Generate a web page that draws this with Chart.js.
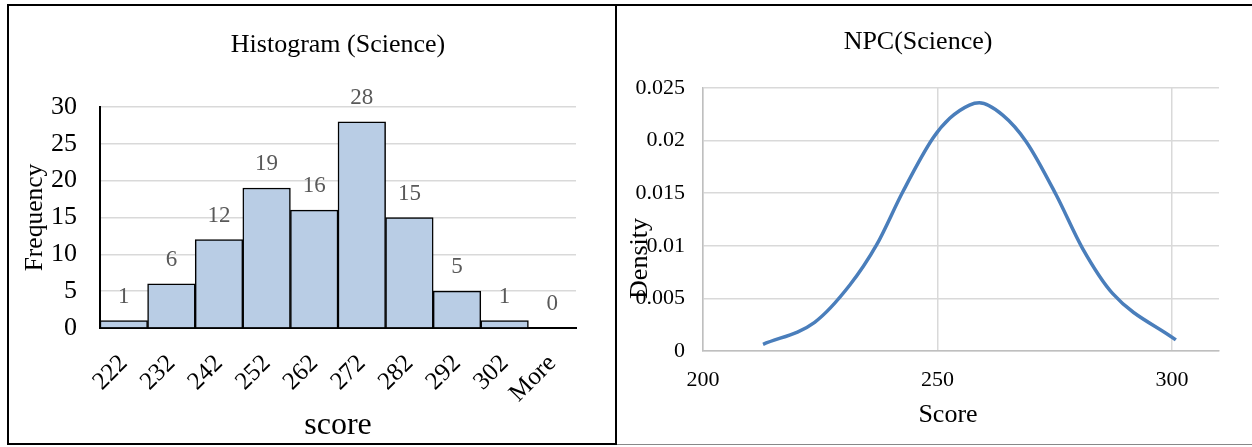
<!DOCTYPE html>
<html>
<head>
<meta charset="utf-8">
<script src="https://cdn.jsdelivr.net/npm/chart.js@4/dist/chart.umd.min.js"></script>
<style>
  html, body { margin: 0; padding: 0; background: #fff; }
  body { width: 1252px; height: 447px; position: relative; overflow: hidden; }
  #leftBox { position: absolute; left: 7px; top: 4px; width: 606px; height: 437px; border: 2px solid #000; }
  #rightTop { position: absolute; left: 617px; top: 4px; width: 635px; height: 2px; background: #000; }
  #rightBottom { position: absolute; left: 617px; top: 444px; width: 635px; height: 1px; background: #888; }
  .wrap { position: absolute; }
  #histWrap { left: 9px; top: 6px; width: 606px; height: 437px; }
  #npcWrap { left: 617px; top: 6px; width: 635px; height: 438px; }
</style>
</head>
<body>
<div id="leftBox"></div>
<div id="rightTop"></div>
<div id="rightBottom"></div>
<div class="wrap" id="histWrap"><canvas id="histChart"></canvas></div>
<div class="wrap" id="npcWrap"><canvas id="npcChart"></canvas></div>
<script>
// Histogram data
const bins = ['222', '232', '242', '252', '262', '272', '282', '292', '302', 'More'];
const freq = [1, 6, 12, 19, 16, 28, 15, 5, 1, 0];

// Normal probability curve
const npcScore = [212.8, 223.8, 231.3, 237.0, 242.6, 249.0, 252.6, 256.8, 258.9, 263.9, 268.9, 275.3, 280.9, 287.3, 300.8];
const npcDensity = [0.00064, 0.00273, 0.00627, 0.01008, 0.01514, 0.02022, 0.02212, 0.02338, 0.0236, 0.02243, 0.0199, 0.01483, 0.00976, 0.00548, 0.00105];
const npcScoreTicks = [200, 250, 300];

const serif = '"Liberation Serif", "Times New Roman", serif';
Chart.defaults.font.family = serif;
Chart.defaults.color = '#000';
Chart.defaults.animation = false;

// labels above the bars
const barLabels = {
    id: 'barLabels',
    afterDatasetsDraw(chart) {
        const ctx = chart.ctx;
        const meta = chart.getDatasetMeta(0);
        ctx.save();
        ctx.font = '23px ' + serif;
        ctx.fillStyle = '#595959';
        ctx.textAlign = 'center';
        ctx.textBaseline = 'middle';
        meta.data.forEach((bar, i) => {
            ctx.fillText(String(freq[i]), bar.x, bar.y - 24);
        });
        ctx.restore();
    }
};

new Chart(document.getElementById('histChart'), {
    type: 'bar',
    data: {
        labels: bins,
        datasets: [{
            data: freq,
            backgroundColor: '#b9cde5',
            borderColor: '#000',
            borderWidth: 1.5,
            categoryPercentage: 1,
            barPercentage: 1
        }]
    },
    options: {
        responsive: true,
        maintainAspectRatio: false,
        layout: { padding: { left: 0, right: 39, top: 0, bottom: 0 } },
        plugins: {
            legend: { display: false },
            tooltip: { enabled: false },
            title: {
                display: true,
                text: 'Histogram (Science)',
                fullSize: false,
                font: { size: 26, weight: 'normal' },
                color: '#000',
                padding: { top: 23.4, bottom: 46.4 }
            }
        },
        scales: {
            x: {
                grid: { display: false },
                border: { display: true, color: '#000', width: 2 },
                ticks: { minRotation: 45, maxRotation: 45, padding: 13, font: { size: 25 }, color: '#000' },
                title: { display: true, text: 'score', font: { size: 32 }, color: '#000', padding: { top: 0, bottom: -2 } },
                afterFit: scale => { scale.height = 115; }
            },
            y: {
                min: 0,
                max: 30,
                ticks: { stepSize: 5, padding: 23, font: { size: 26 }, color: '#000' },
                grid: { color: '#d9d9d9', lineWidth: 1.5, drawTicks: false },
                border: { display: true, color: '#000', width: 2 },
                title: { display: true, text: 'Frequency', font: { size: 25.5 }, color: '#000', padding: { top: 10.7, bottom: 0 } },
                afterFit: scale => { scale.width = 91; }
            }
        }
    },
    plugins: [barLabels]
});

new Chart(document.getElementById('npcChart'), {
    type: 'line',
    data: {
        datasets: [{
            data: npcScore.map((s, i) => ({ x: s, y: npcDensity[i] })),
            borderColor: '#4a7ebb',
            borderWidth: 3.5,
            pointRadius: 0,
            cubicInterpolationMode: 'monotone',
            fill: false
        }]
    },
    options: {
        responsive: true,
        maintainAspectRatio: false,
        layout: { padding: { left: 0, right: 33, top: 0, bottom: 0 } },
        plugins: {
            legend: { display: false },
            tooltip: { enabled: false },
            title: {
                display: true,
                text: 'NPC(Science)',
                font: { size: 26, weight: 'normal' },
                color: '#000',
                padding: { top: 20.1, bottom: 30.7 }
            }
        },
        scales: {
            x: {
                type: 'linear',
                min: 200,
                max: 310,
                ticks: { padding: 16, font: { size: 22 }, color: '#000' },
                afterBuildTicks: scale => { scale.ticks = npcScoreTicks.map(v => ({ value: v })); },
                grid: { color: '#d9d9d9', lineWidth: 1.5, drawTicks: false },
                border: { display: true, color: '#bfbfbf', width: 1.5 },
                title: { display: true, text: 'Score    ', font: { size: 26 }, color: '#000', padding: { top: 0, bottom: 13.4 } },
                afterFit: scale => { scale.height = 93; }
            },
            y: {
                min: 0,
                max: 0.025,
                ticks: {
                    stepSize: 0.005,
                    padding: 18,
                    font: { size: 22 },
                    color: '#000',
                    callback: v => String(+v.toFixed(3))
                },
                grid: { color: '#d9d9d9', lineWidth: 1.5, drawTicks: false },
                border: { display: true, color: '#bfbfbf', width: 1.5 },
                title: { display: true, text: 'Density            ', font: { size: 26 }, color: '#000', padding: { top: 7.4, bottom: 0 } },
                afterFit: scale => { scale.width = 86; }
            }
        }
    }
});
</script>
</body>
</html>
